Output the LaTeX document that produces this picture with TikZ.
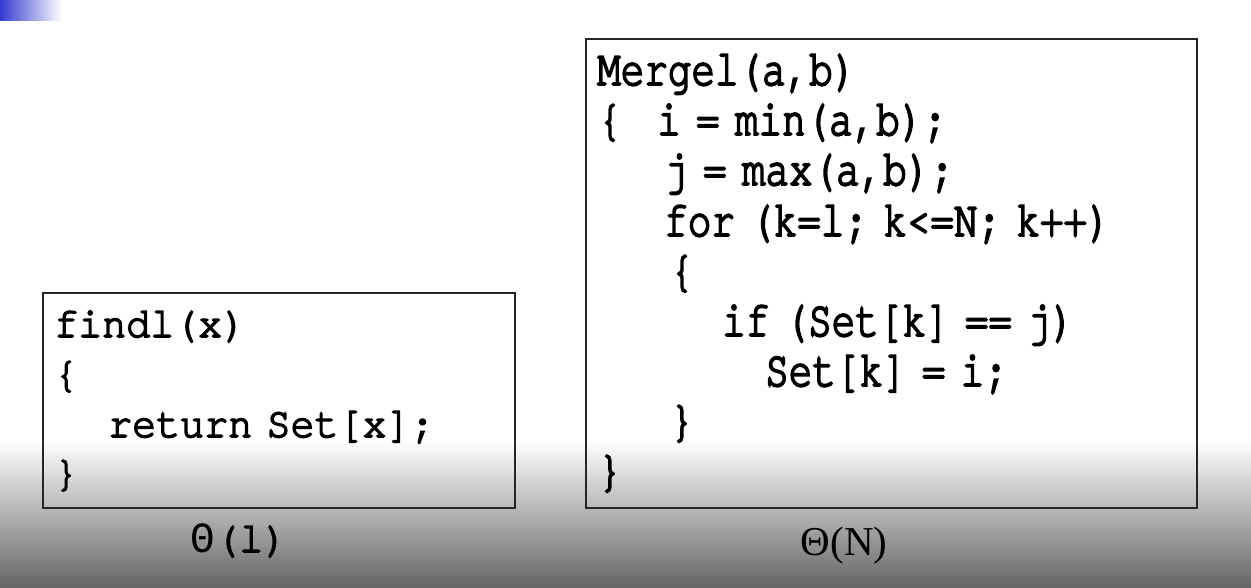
\documentclass[tikz,border=0pt]{standalone}
\usepackage{fontspec}
\newfontfamily\codeleft[Ligatures=NoCommon,WordSpace=0.6,FakeStretch=0.93,FakeBold=3.5]{TeX Gyre Cursor}
\newfontfamily\coderight[Ligatures=NoCommon,WordSpace=0.65,FakeStretch=0.77,FakeBold=3.5]{TeX Gyre Cursor}
\newfontfamily\thetafont[FakeStretch=0.95]{Liberation Mono}
\newfontfamily\serifont{Liberation Serif}
\definecolor{bluecorner}{RGB}{52,60,210}
\definecolor{grayend}{RGB}{102,102,102}
\begin{document}
\begin{tikzpicture}[x=1pt,y=-1pt,
  codetxt/.style={anchor=base west,inner sep=0pt,font=\codeleft\fontsize{43}{50}\selectfont,text=black},
  bigcode/.style={anchor=base west,inner sep=0pt,font=\coderight\fontsize{51}{58}\selectfont,text=black},
  frame/.style={draw=black!85,line width=1.8pt}]
\useasboundingbox (0,0) rectangle (1251,587);
\fill[white] (0,0) rectangle (1251,587);
\shade[top color=white,bottom color=grayend] (0,440) rectangle (1251,587);
\shade[left color=bluecorner,right color=white] (0,0) rectangle (62,20);
% left box
\draw[frame] (43,293) rectangle (515,508);
\node[codetxt] (f1) at (54,337) {findl(x)};
\node[codetxt] (f2) at (54,387) {\{};
\node[codetxt] (f3) at (108,437) {return Set[x];};
\node[codetxt] (f4) at (54,486) {\}};
\node[codetxt,anchor=base] (t1) at (239,552) {{\thetafont Θ}(l)};
% right box
\draw[frame] (586,39) rectangle (1197,508);
\node[bigcode] (m1) at (597,85) {Mergel(a,b)};
\node[bigcode] (m2a) at (598,135) {\{};
\node[bigcode] (m2b) at (657,135) {i = min(a,b);};
\node[bigcode] (m3) at (664,185) {j = max(a,b);};
\node[bigcode] (m4) at (664,236) {for (k=l; k<=N; k++)};
\node[bigcode] (m5) at (670,286) {\{};
\node[bigcode] (m6) at (722,336) {if (Set[k] == j)};
\node[bigcode] (m7) at (765,386) {Set[k] = i;};
\node[bigcode] (m8) at (670,436) {\}};
\node[bigcode] (m9) at (598,486) {\}};
\node[anchor=base,inner sep=0pt,font=\serifont\fontsize{41}{48}\selectfont] (t2) at (844,555) {Θ(N)};
\end{tikzpicture}
\end{document}
